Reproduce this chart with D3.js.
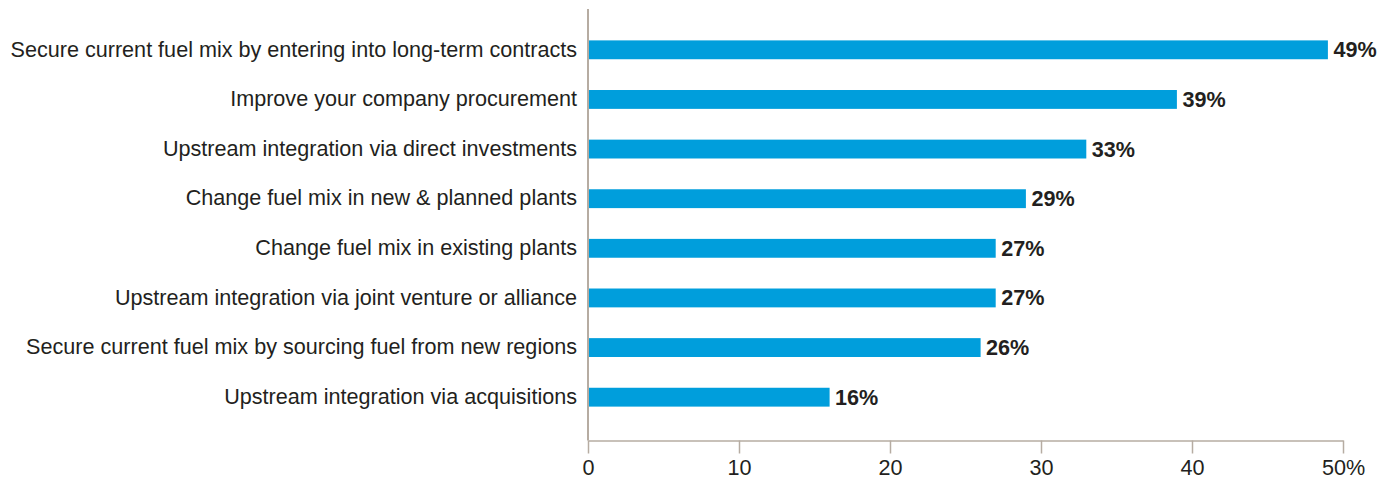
<!DOCTYPE html>
<html><head><meta charset="utf-8">
<script src="https://cdn.jsdelivr.net/npm/d3@7"></script>
<style>body{margin:0;background:#fff}svg{display:block}</style>
</head><body>
<svg id="c" width="1393" height="480"></svg>
<script>
const categories = [
  "Secure current fuel mix by entering into long-term contracts",
  "Improve your company procurement",
  "Upstream integration via direct investments",
  "Change fuel mix in new & planned plants",
  "Change fuel mix in existing plants",
  "Upstream integration via joint venture or alliance",
  "Secure current fuel mix by sourcing fuel from new regions",
  "Upstream integration via acquisitions"
];
const values = [49, 39, 33, 29, 27, 27, 26, 16];
const tickValues = [0, 10, 20, 30, 40, 50];
const tickLabels = ["0", "10", "20", "30", "40", "50%"];

const svg = d3.select("#c");
const font = "'Liberation Sans', Arial, Helvetica, sans-serif";
const fs = 21.6;
const textColor = "#231f20";
const axisColor = "#b6aca2";
const barColor = "#009edc";

const x = d3.scaleLinear().domain([0, 50]).range([588, 1343]);
const y = d3.scaleBand().domain(categories).range([25, 422]).paddingInner(0.62).paddingOuter(0.31);

// bars
svg.append("g").selectAll("rect").data(values).join("rect")
  .attr("x", x(0)).attr("y", (d, i) => y(categories[i]))
  .attr("width", d => x(d) - x(0)).attr("height", y.bandwidth())
  .attr("fill", barColor);

// value labels
svg.append("g").selectAll("text").data(values).join("text")
  .attr("x", d => x(d) + 5.5).attr("y", (d, i) => y(categories[i]) + y.bandwidth() / 2)
  .attr("dy", "0.35em")
  .attr("font-family", font).attr("font-size", fs).attr("font-weight", "bold")
  .attr("fill", textColor).text(d => d + "%");

// category labels
svg.append("g").selectAll("text").data(categories).join("text")
  .attr("x", 577).attr("y", d => y(d) + y.bandwidth() / 2)
  .attr("dy", "0.31em").attr("text-anchor", "end")
  .attr("font-family", font).attr("font-size", fs)
  .attr("fill", textColor).text(d => d);

// vertical axis line
svg.append("line").attr("x1", 588).attr("x2", 588).attr("y1", 9).attr("y2", 440.5)
  .attr("stroke", axisColor).attr("stroke-width", 2);

// x axis
const xAxis = d3.axisBottom(x).tickValues(tickValues).tickFormat((d, i) => tickLabels[i])
  .tickSize(13).tickSizeOuter(0).tickPadding(6.5);
const g = svg.append("g").attr("transform", "translate(0,440.5)").call(xAxis);
g.select(".domain").attr("stroke", axisColor).attr("stroke-width", 1.5);
g.selectAll(".tick line").attr("stroke", axisColor).attr("stroke-width", 1.5);
g.selectAll(".tick text").attr("font-family", font).attr("font-size", fs).attr("fill", textColor);
</script>
</body></html>
